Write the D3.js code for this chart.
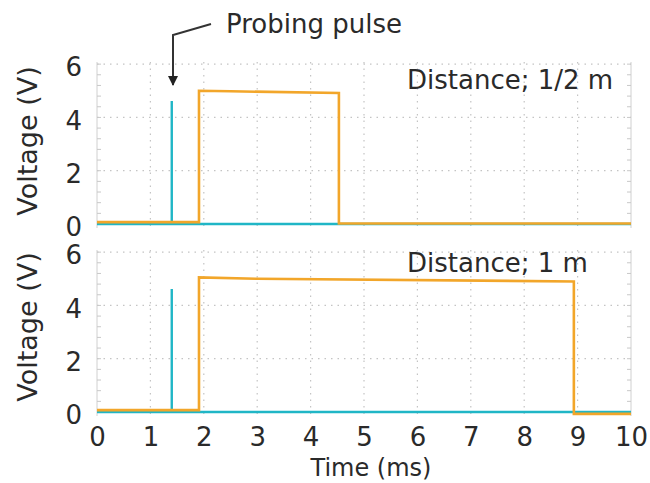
<!DOCTYPE html>
<html>
<head>
<meta charset="utf-8">
<script src="https://cdn.jsdelivr.net/npm/d3@7"></script>
<style>
  body { margin: 0; background: #fff; }
  text { font-family: "DejaVu Sans", sans-serif; fill: #2a2a2a; }
  .grid line { stroke: #c4c4c4; stroke-dasharray: 1.5 5; stroke-width: 1.2; }
  .frame { stroke: #d0d0d0; fill: none; }
</style>
</head>
<body>
<svg id="chart" width="650" height="483"></svg>
<script>
// time (ms) and voltage (V) samples
const pulseTime = [0, 1.4, 1.4, 1.4, 10];
const pulseVolt = [0, 0, 4.62, 0, 0];

const echoTimeHalf = [0, 1.91, 1.91, 2.5, 4.53, 4.53, 10];
const echoVoltHalf = [0.07, 0.07, 5.0, 4.98, 4.92, 0.02, 0.02];

const echoTimeOne = [0, 1.91, 1.91, 3.0, 8.93, 8.93, 10];
const echoVoltOne = [0.07, 0.07, 5.05, 5.0, 4.9, -0.07, -0.07];

const xTicks = [0, 1, 2, 3, 4, 5, 6, 7, 8, 9, 10];
const yTicks = [0, 2, 4, 6];

const panels = [
  { label: "Distance; 1/2 m", echoT: echoTimeHalf, echoV: echoVoltHalf, top: 62, bottom: 228, labelY: 89, titleY: 141 },
  { label: "Distance; 1 m", echoT: echoTimeOne, echoV: echoVoltOne, top: 250, bottom: 416, labelY: 272, titleY: 327 }
];

const svg = d3.select("#chart");
const left = 97, right = 631;

const x = d3.scaleLinear().domain([0, 10]).range([left, right]);

panels.forEach((p, i) => {
  const y = d3.scaleLinear().domain([-0.15, 6.08]).range([p.bottom, p.top]);
  const g = svg.append("g");

  // dotted grid
  const grid = g.append("g").attr("class", "grid");
  grid.selectAll(".gx").data(xTicks.slice(1, -1)).enter().append("line")
    .attr("x1", d => x(d)).attr("x2", d => x(d))
    .attr("y1", p.top).attr("y2", p.bottom);
  grid.selectAll(".gy").data(yTicks).enter().append("line")
    .attr("x1", left).attr("x2", right)
    .attr("y1", d => y(d)).attr("y2", d => y(d));

  // faint frame sides
  g.append("line").attr("class", "frame")
    .attr("x1", left).attr("x2", left).attr("y1", p.top).attr("y2", p.bottom);
  g.append("line").attr("class", "frame")
    .attr("x1", right).attr("x2", right).attr("y1", p.top).attr("y2", p.bottom);

  // minor ticks inside left/right edges
  const minor = d3.range(0, 6.01, 0.4);
  g.selectAll(".mt").data(minor).enter().append("line")
    .attr("x1", left).attr("x2", left + 4)
    .attr("y1", d => y(d)).attr("y2", d => y(d))
    .attr("stroke", "#c8c8c8");
  g.selectAll(".mt2").data(minor).enter().append("line")
    .attr("x1", right - 4).attr("x2", right)
    .attr("y1", d => y(d)).attr("y2", d => y(d))
    .attr("stroke", "#c8c8c8");

  // y axis labels
  const yAxis = d3.axisLeft(y).tickValues(yTicks).tickFormat(d3.format("d")).tickSize(0).tickPadding(15);
  const ya = g.append("g").attr("transform", `translate(${left},0)`).call(yAxis);
  ya.select(".domain").remove();
  ya.selectAll("text").attr("dy", "0.45em")
    .style("font-size", "26px").style("font-family", "DejaVu Sans").attr("fill", "#2a2a2a");

  g.append("text")
    .attr("transform", `translate(37,${p.titleY}) rotate(-90)`)
    .attr("text-anchor", "middle")
    .style("font-size", "27px")
    .text("Voltage (V)");

  const line = d3.line().x(d => x(d[0])).y(d => y(d[1]));

  g.append("path")
    .datum(d3.zip(pulseTime, pulseVolt))
    .attr("d", line)
    .attr("fill", "none")
    .attr("stroke", "#20b6c6")
    .attr("stroke-width", 2.4);

  g.append("path")
    .datum(d3.zip(p.echoT, p.echoV))
    .attr("d", line)
    .attr("fill", "none")
    .attr("stroke", "#f2a62a")
    .attr("stroke-width", 2.6);

  g.append("text")
    .attr("x", 407).attr("y", p.labelY)
    .style("font-size", "26px")
    .text(p.label);

  if (i === 1) {
    const xAxis = d3.axisBottom(x).tickValues(xTicks).tickSize(0).tickPadding(12);
    const xa = g.append("g").attr("transform", `translate(0,${p.bottom})`).call(xAxis);
    xa.select(".domain").remove();
    xa.selectAll("text").style("font-size", "26px").style("font-family", "DejaVu Sans").attr("fill", "#2a2a2a");
  }
});

svg.append("text")
  .attr("x", 371).attr("y", 476)
  .attr("text-anchor", "middle")
  .style("font-size", "24px")
  .text("Time (ms)");

// annotation arrow
svg.append("defs").append("marker")
  .attr("id", "ah").attr("viewBox", "0 0 10 10")
  .attr("refX", 9).attr("refY", 5)
  .attr("markerWidth", 5.5).attr("markerHeight", 5)
  .attr("orient", "auto")
  .append("path").attr("d", "M0,0L10,5L0,10z").attr("fill", "#222");

svg.append("path")
  .attr("d", "M211,24L173,35L173,85")
  .attr("fill", "none")
  .attr("stroke", "#333")
  .attr("stroke-width", 2)
  .attr("marker-end", "url(#ah)");

svg.append("text")
  .attr("x", 226).attr("y", 33)
  .style("font-size", "26px")
  .text("Probing pulse");
</script>
</body>
</html>
